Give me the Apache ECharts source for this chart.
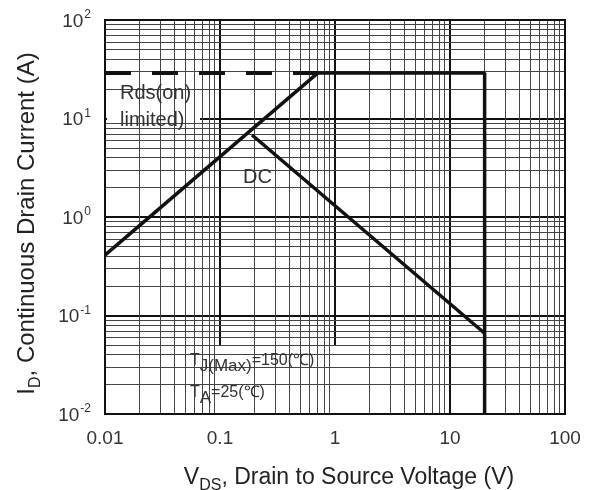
<!DOCTYPE html>
<html>
<head>
<meta charset="utf-8">
<script src="https://cdn.jsdelivr.net/npm/echarts@6/dist/echarts.min.js"></script>
<style>html,body{margin:0;padding:0;background:#fff}#c{width:595px;height:490px}</style>
</head>
<body>
<div id="c"></div>
<script>
// ---- data ----
const xTickLabels = ['0.01', '0.1', '1', '10', '100'];
const yTickExps = ['-2', '-1', '0', '1', '2'];
const decades = [0.01, 0.1, 1, 10];
const minorMultiples = [2, 3, 4, 5, 6, 7, 8, 9];

// Rds(on) limit (dashed) and its sloped solid part
const rdsDashV = [0.01, 0.71];
const rdsDashI = [29, 29];
const rdsSlopeV = [0.01, 0.71];
const rdsSlopeI = [0.41, 29];
// current limit and voltage limit (solid)
const limitV = [0.71, 20, 20];
const limitI = [29, 29, 0.01];
// DC power limit
const dcV = [0.19, 20];
const dcI = [6.8, 0.066];

const FONT = '"Liberation Sans", Arial, sans-serif';
const pairs = (xs, ys) => xs.map((x, i) => [x, ys[i]]);

const minorVals = [];
decades.forEach(d => minorMultiples.forEach(m => minorVals.push(+(m * d).toPrecision(3))));
const gridMarks = [];
minorVals.forEach(v => gridMarks.push({ xAxis: v }));
minorVals.forEach(v => gridMarks.push({ yAxis: v }));

const chart = echarts.init(document.getElementById('c'), null, { renderer: 'canvas' });
const curveStyle = { color: '#111', width: 3.5 };

chart.setOption({
  animation: false,
  backgroundColor: '#fff',
  grid: { left: 105, right: 30, top: 20, bottom: 76, show: true, z: 10,
          outerBoundsMode: 'none', containLabel: false,
          backgroundColor: 'transparent', borderColor: '#111', borderWidth: 2 },
  xAxis: {
    type: 'log', logBase: 10, min: 0.01, max: 100, splitNumber: 4,
    axisLine: { show: true, lineStyle: { color: '#111', width: 2 } },
    axisTick: { show: false },
    splitLine: { show: true, lineStyle: { color: '#111', width: 2 } },
    axisLabel: {
      margin: 15, color: '#333', fontSize: 19, fontFamily: FONT,
      formatter: v => xTickLabels[Math.round(Math.log10(v)) + 2]
    },
    name: '{m|V}{s|DS}{m|, Drain to Source Voltage (V)}',
    nameLocation: 'middle', nameGap: 47,
    nameTextStyle: {
      padding: [0, 0, 0, 28],
      rich: {
        m: { fontSize: 23, color: '#222', fontFamily: FONT, lineHeight: 28, verticalAlign: 'bottom' },
        s: { fontSize: 16, color: '#222', fontFamily: FONT, lineHeight: 28, verticalAlign: 'bottom', padding: [0, 0, -5, 0] }
      }
    }
  },
  yAxis: {
    type: 'log', logBase: 10, min: 0.01, max: 100, splitNumber: 4,
    axisLine: { show: true, lineStyle: { color: '#111', width: 2 } },
    axisTick: { show: false },
    splitLine: { show: true, lineStyle: { color: '#111', width: 2 } },
    axisLabel: {
      margin: 14, fontFamily: FONT,
      formatter: v => '{b|10}{e|' + yTickExps[Math.round(Math.log10(v)) + 2] + '}',
      rich: {
        b: { fontSize: 19, color: '#333', fontFamily: FONT, lineHeight: 22, verticalAlign: 'bottom' },
        e: { fontSize: 12, color: '#333', fontFamily: FONT, lineHeight: 22, verticalAlign: 'top', padding: [0, 0, 0, 1] }
      }
    },
    name: '{m|I}{s|D}{m|, Continuous Drain Current (A)}',
    nameLocation: 'middle', nameGap: 66, nameRotate: 90,
    nameTextStyle: {
      padding: [0, 13, 0, 0],
      rich: {
        m: { fontSize: 24, color: '#222', fontFamily: FONT, lineHeight: 28, verticalAlign: 'bottom' },
        s: { fontSize: 16, color: '#222', fontFamily: FONT, lineHeight: 28, verticalAlign: 'bottom', padding: [0, 0, -5, 0] }
      }
    }
  },
  graphic: [
    { type: 'rect', z: 3, shape: { x: 107, y: 78, width: 93, height: 57 }, style: { fill: '#fff' } },
    { type: 'rect', z: 3, shape: { x: 233, y: 161, width: 52, height: 35 }, style: { fill: '#fff' } },
    { type: 'rect', z: 3, shape: { x: 127, y: 346, width: 240, height: 67 }, style: { fill: '#fff' } },
    { type: 'text', z: 6, left: 120, top: 80,
      style: { text: 'Rds(on)\nlimited)', font: '20px ' + FONT, fill: '#333', lineHeight: 27 } },
    { type: 'text', z: 6, left: 243, top: 167,
      style: { text: 'DC', font: '20px ' + FONT, fill: '#333' } },
    { type: 'text', z: 6, left: 190, top: 347,
      style: {
        text: '{t|T}{s|J(Max)}{t|=150(℃)}\n{t|T}{s|A}{t|=25(℃)}',
        rich: {
          t: { fontSize: 16, fontFamily: FONT, fill: '#333', lineHeight: 32, verticalAlign: 'top', padding: [6, 0, 0, 0] },
          s: { fontSize: 17, fontFamily: FONT, fill: '#333', lineHeight: 32, verticalAlign: 'bottom', padding: [0, 0, 4, 0] }
        }
      } }
  ],
  series: [
    {
      type: 'line', z: 1, silent: true, symbol: 'none', data: [[0.01, 0.01]],
      lineStyle: { opacity: 0 },
      markLine: {
        silent: true, symbol: ['none', 'none'], label: { show: false },
        lineStyle: { color: '#444', width: 1, type: 'solid' },
        emphasis: { disabled: true },
        data: gridMarks
      }
    },
    { type: 'line', z: 5, symbol: 'none', data: pairs(rdsDashV, rdsDashI),
      lineStyle: { color: '#111', width: 4, type: [26, 21] } },
    { type: 'line', z: 5, symbol: 'none', data: pairs(rdsSlopeV, rdsSlopeI), lineStyle: curveStyle },
    { type: 'line', z: 5, symbol: 'none', data: pairs(limitV, limitI), lineStyle: curveStyle },
    { type: 'line', z: 5, symbol: 'none', data: pairs(dcV, dcI), lineStyle: curveStyle }
  ]
});
</script>
</body>
</html>
